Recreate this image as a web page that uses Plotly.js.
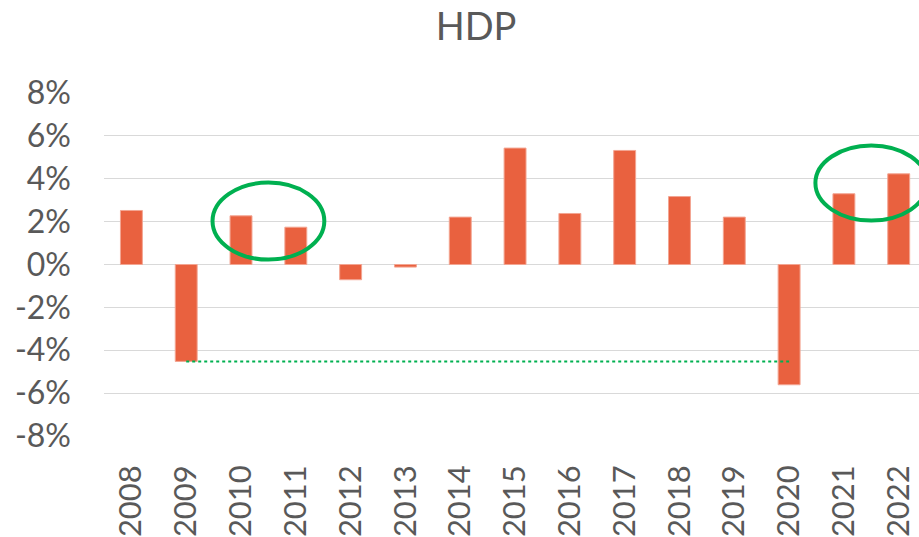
<!DOCTYPE html>
<html>
<head>
<meta charset="utf-8">
<script src="https://cdn.plot.ly/plotly-3.0.1.min.js"></script>
<style>html,body{margin:0;padding:0;background:#fff;}#chart{width:919px;height:537px;}</style>
</head>
<body>
<div id="chart"></div>
<script>
// Data (percent)
const years = ['2008','2009','2010','2011','2012','2013','2014','2015','2016','2017','2018','2019','2020','2021','2022'];
const gdpGrowth = [2.52, -4.52, 2.27, 1.74, -0.71, -0.12, 2.21, 5.43, 2.38, 5.32, 3.17, 2.21, -5.61, 3.30, 4.23];
const yTickVals = [-8, -6, -4, -2, 0, 2, 4, 6, 8];
const yTickText = ['-8%', '-6%', '-4%', '-2%', '0%', '2%', '4%', '6%', '8%'];
const refFrom = '2009';
const refTo = '2020';
const highlightPairs = [['2010', '2011'], ['2021', '2022']];

const refY = gdpGrowth[years.indexOf(refFrom)];

const traces = [
  {
    type: 'bar',
    x: years,
    y: gdpGrowth,
    marker: {color: '#E9613F', line: {color: '#F3A592', width: 1}},
    hoverinfo: 'x+y'
  },
  {
    type: 'scatter',
    mode: 'lines',
    x: [refFrom, refTo],
    y: [refY, refY],
    line: {color: '#00B050', width: 2, dash: 'dot'},
    hoverinfo: 'skip'
  }
];

// ellipse vertical extents per highlighted pair (data units)
const ellipseY = [[0.23, 3.82], [2.05, 5.55]];
const shapes = highlightPairs.map((p, i) => {
  const mid = (years.indexOf(p[0]) + years.indexOf(p[1])) / 2;
  return {
    type: 'circle', xref: 'x', yref: 'y',
    x0: mid - 1.02, x1: mid + 1.02,
    y0: ellipseY[i][0], y1: ellipseY[i][1],
    line: {color: '#00B050', width: 4}
  };
});

const layout = {
  width: 919, height: 537,
  margin: {l: 104, r: 0, t: 93, b: 101, pad: 0},
  paper_bgcolor: '#ffffff', plot_bgcolor: '#ffffff',
  showlegend: false,
  font: {family: 'Lato, "Open Sans", sans-serif', color: '#595959'},
  title: {
    text: 'HDP',
    font: {family: 'Lato, "Open Sans", sans-serif', size: 38, color: '#595959'},
    x: 0.518, xanchor: 'center', xref: 'container',
    y: 0.951, yanchor: 'middle', yref: 'container'
  },
  xaxis: {
    type: 'category',
    range: [-0.5, 14.37],
    tickangle: -90,
    tickfont: {size: 31, color: '#595959'},
    showgrid: false, showline: false, zeroline: false,
    ticks: '',
    ticklabelstandoff: 22,
    fixedrange: true
  },
  yaxis: {
    range: [-8, 8],
    tickvals: yTickVals,
    ticktext: yTickText,
    tickfont: {size: 32, color: '#595959'},
    showgrid: true, gridcolor: '#D9D9D9', gridwidth: 1,
    zeroline: true, zerolinecolor: '#D9D9D9', zerolinewidth: 1,
    showline: false, ticks: '',
    ticklabelstandoff: 32,
    fixedrange: true
  },
  bargap: 0.6,
  shapes: shapes
};

Plotly.newPlot('chart', traces, layout, {displayModeBar: false, staticPlot: true});
</script>
</body>
</html>
